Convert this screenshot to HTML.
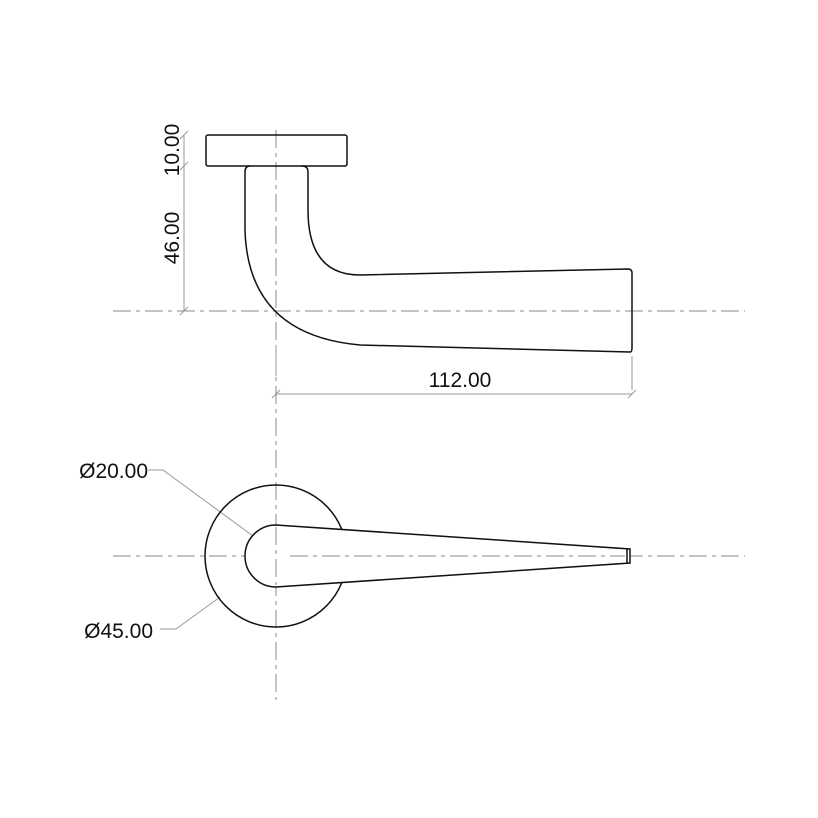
<!DOCTYPE html>
<html><head><style>body{margin:0;background:#fff}svg{display:block}</style></head><body>
<svg width="818" height="818" viewBox="0 0 818 818" xmlns="http://www.w3.org/2000/svg">
<rect width="818" height="818" fill="#fff"/>
<g stroke="#888" stroke-width="1" fill="none" stroke-dasharray="18,5,4,5">
<line x1="113" y1="311" x2="745" y2="311"/>
<line x1="113" y1="556" x2="745" y2="556"/>
<line x1="276" y1="130" x2="276" y2="700"/>
</g>
<g stroke="#999" stroke-width="1" fill="none">
<line x1="184" y1="135" x2="184" y2="311"/>
<line x1="180" y1="139" x2="188" y2="131"/>
<line x1="180" y1="170" x2="188" y2="162"/>
<line x1="180" y1="315" x2="188" y2="307"/>
<line x1="276" y1="394" x2="632" y2="394"/>
<line x1="276" y1="345" x2="276" y2="376"/>
<line x1="632" y1="356" x2="632" y2="390"/>
<line x1="272" y1="398" x2="280" y2="390"/>
<line x1="628" y1="398" x2="636" y2="390"/>
<polyline points="148,470 163,470 253,536"/>
<polyline points="160,629 176,629 220,597"/>
</g>
<g stroke="#111" stroke-width="1.5" fill="none">
<rect x="206" y="135" width="141" height="31" rx="2"/>
<path d="M250,166 Q245,166 245,172 L245,230 Q248,335 360,345 L630,352 Q632,352 632,348 L632,273 Q632,269 628,269 L360,275 Q308,275 308,210 L308,172 Q308,166 302,166"/>
<circle cx="276" cy="556" r="71"/>
<path d="M276,525 A31,31 0 0 0 276,587 L630,563 L630,549 Z" fill="#fff"/>
<line x1="627" y1="549" x2="627" y2="563"/>
</g>
<g stroke="#888" stroke-width="1" stroke-dasharray="18,5,4,5">
<line x1="290" y1="556" x2="625" y2="556"/>
<line x1="276" y1="527" x2="276" y2="585"/>
</g>
<g font-family="Liberation Sans, sans-serif" font-size="21" fill="#111">
<text x="460" y="387" text-anchor="middle">112.00</text>
<text x="148" y="478" text-anchor="end">Ø20.00</text>
<text x="153" y="638" text-anchor="end">Ø45.00</text>
<text transform="translate(179,150) rotate(-90)" text-anchor="middle">10.00</text>
<text transform="translate(179,238) rotate(-90)" text-anchor="middle">46.00</text>
</g>
</svg>
</body></html>
